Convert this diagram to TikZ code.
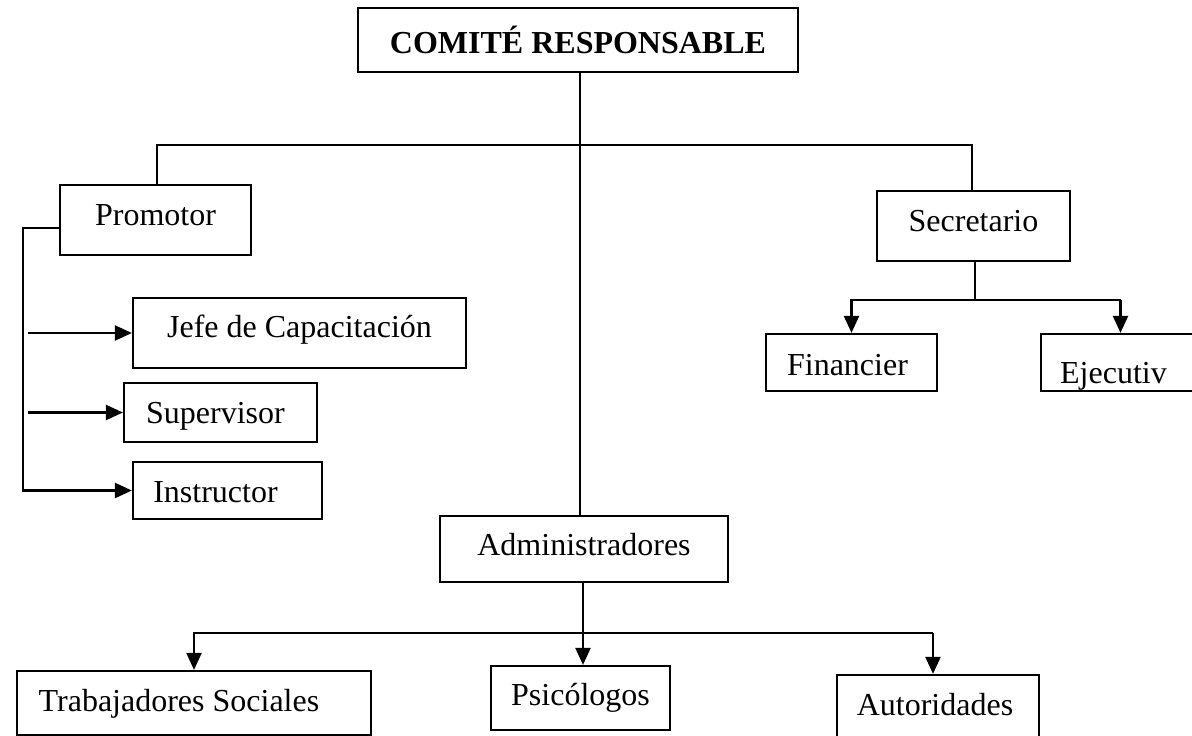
\documentclass[tikz,border=0pt]{standalone}
\usepackage{fontspec}
\setmainfont{Liberation Serif}
\usetikzlibrary{arrows.meta,calc}
\tikzset{
  box/.style={draw=black, line width=2.2pt, inner sep=0pt, rectangle,
    font=\fontsize{32}{38}\selectfont, text depth=0pt, text height=14pt},
  bl/.style={text height=#1},
  conn/.style={draw=black, line width=2.2pt},
  arr/.style={conn, -{Triangle[length=17pt,width=15pt]}}
}
\begin{document}
\begin{tikzpicture}[x=1pt,y=-1pt]
\useasboundingbox (0,0) rectangle (1192,736);
% boxes
\node[box, bl=26pt, minimum width=440pt, minimum height=64pt, font=\fontsize{32}{38}\selectfont\bfseries] (comite) at (578,40) {COMITÉ RESPONSABLE};
\node[box, bl=10pt, minimum width=191pt, minimum height=70pt] (promotor) at (155.5,220) {Promotor};
\node[box, bl=8pt, minimum width=333pt, minimum height=70pt] (jefe) at (299.5,333) {Jefe de Capacitación};
\node[box, bl=21pt, minimum width=193pt, minimum height=59pt] (supervisor) at (220.5,412.5) {Supervisor\hspace*{10pt}};
\node[box, bl=23pt, minimum width=189pt, minimum height=57pt] (instructor) at (227.5,490.5) {Instructor\hspace*{24pt}};
\node[box, bl=10pt, minimum width=193pt, minimum height=70pt] (secretario) at (973.5,226) {Secretario};
\node[box, bl=25pt, minimum width=171pt, minimum height=57pt] (financier) at (851.5,362.5) {Financier\hspace*{8pt}};
\node[box, bl=41pt, minimum width=159pt, minimum height=57pt] (ejecutiv) at (1120.5,362.5) {Ejecutiv\hspace*{14pt}};
\node[box, bl=12pt, minimum width=288pt, minimum height=66pt] (admin) at (584,549) {Administradores};
\node[box, bl=16pt, minimum width=354pt, minimum height=64pt] (trab) at (194,703) {Trabajadores Sociales\hspace*{30pt}};
\node[box, bl=14pt, minimum width=179pt, minimum height=64pt] (psi) at (580.5,698) {Psicólogos};
\node[box, bl=17pt, minimum width=202pt, minimum height=63pt] (autor) at (938,706.5) {Autoridades\hspace*{6pt}};
% main vertical
\coordinate (vline) at ($(comite.south)+(2,0)$);
\draw[conn] (vline) -- (vline |- admin.north);
% top bar
\coordinate (bar) at (0,145);
\coordinate (pt) at ($(promotor.north)+(1.5,0)$);
\coordinate (st) at ($(secretario.north)+(-1.5,0)$);
\draw[conn] (pt) -- (pt |- bar) -- (st |- bar) -- (st);
% promotor left bus
\coordinate (pw) at ($(promotor.west)+(0,8)$);
\coordinate (lb) at (23,0);
\coordinate (lb2) at (28,0);
\draw[arr] (pw) -- (pw -| lb) -- (lb |- instructor.west) -- (instructor.west);
\draw[arr] (lb2 |- jefe.west) -- (jefe.west);
\draw[arr] (lb2 |- supervisor.west) -- (supervisor.west);
% secretario
\coordinate (sb) at ($(secretario.south)+(1.5,0)$);
\coordinate (sbar) at (0,300);
\draw[conn] (sb) -- (sb |- sbar);
\draw[arr] (ejecutiv.north |- sbar) -- (financier.north |- sbar) -- (financier.north);
\draw[arr] (ejecutiv.north |- sbar) -- (ejecutiv.north);
% administradores
\coordinate (abar) at (0,633);
\coordinate (ab) at ($(admin.south)+(-1,0)$);
\coordinate (ax) at (933,0);
\draw[arr] (ab) -- (ab |- psi.north);
\draw[arr] (ax |- abar) -- (trab.north |- abar) -- (trab.north);
\draw[arr] (ax |- abar) -- (ax |- autor.north);
\end{tikzpicture}
\end{document}
